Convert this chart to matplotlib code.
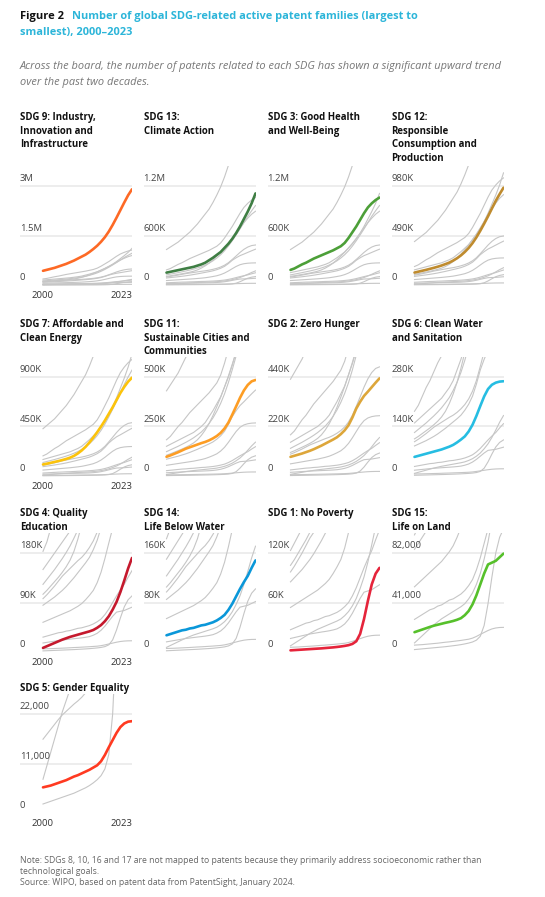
import matplotlib.pyplot as plt
from matplotlib.transforms import blended_transform_factory

W, H = 545, 897
plt.rcParams['font.family'] = ['Open Sans', 'Noto Sans', 'DejaVu Sans']

years = list(range(2000, 2024))

# values per SDG, 2000-2023
sdg9 = [430e3, 460e3, 490e3, 520e3, 560e3, 600e3, 640e3, 690e3, 740e3, 800e3, 860e3, 920e3,
        1.00e6, 1.09e6, 1.19e6, 1.31e6, 1.45e6, 1.62e6, 1.82e6, 2.04e6, 2.27e6, 2.50e6, 2.72e6, 2.90e6]
sdg13 = [150e3, 160e3, 170e3, 180e3, 190e3, 200e3, 210e3, 220e3, 235e3, 250e3, 270e3, 300e3,
         330e3, 365e3, 400e3, 450e3, 500e3, 560e3, 630e3, 710e3, 800e3, 890e3, 990e3, 1.11e6]
sdg3 = [183e3, 200e3, 225e3, 250e3, 270e3, 295e3, 320e3, 340e3, 360e3, 380e3, 400e3, 420e3,
        445e3, 470e3, 510e3, 570e3, 640e3, 710e3, 790e3, 870e3, 940e3, 990e3, 1.03e6, 1.06e6]
sdg12 = [123e3, 132e3, 141e3, 150e3, 160e3, 170e3, 181e3, 193e3, 207e3, 222e3, 242e3, 265e3,
         293e3, 327e3, 367e3, 415e3, 472e3, 537e3, 607e3, 680e3, 757e3, 833e3, 900e3, 963e3]
sdg7 = [105e3, 112e3, 120e3, 128e3, 136e3, 145e3, 155e3, 167e3, 183e3, 205e3, 232e3, 265e3,
        305e3, 350e3, 398e3, 450e3, 505e3, 565e3, 625e3, 690e3, 755e3, 810e3, 858e3, 894e3]
sdg11 = [97e3, 104e3, 112e3, 120e3, 129e3, 138e3, 145e3, 152e3, 159e3, 166e3, 172e3, 180e3,
         190e3, 202e3, 218e3, 240e3, 270e3, 310e3, 352e3, 395e3, 432e3, 460e3, 478e3, 485e3]
sdg2 = [85e3, 90e3, 95e3, 100e3, 106e3, 112e3, 119e3, 127e3, 135e3, 144e3, 153e3, 162e3,
        172e3, 186e3, 203e3, 226e3, 260e3, 300e3, 330e3, 356e3, 375e3, 395e3, 415e3, 434e3]
sdg6 = [54e3, 57e3, 60e3, 63e3, 66e3, 69e3, 72e3, 75e3, 79e3, 83e3, 88e3, 95e3,
        103e3, 112e3, 126e3, 145e3, 170e3, 198e3, 225e3, 246e3, 258e3, 264e3, 267e3, 268e3]
sdg4 = [7.5e3, 10.5e3, 13.5e3, 16.5e3, 19.5e3, 22.5e3, 25e3, 27.5e3, 29.5e3, 31.5e3, 33.5e3, 35.5e3,
        37.5e3, 40e3, 44e3, 49e3, 56e3, 65e3, 77e3, 91e3, 109e3, 130e3, 152e3, 171e3]
sdg14 = [27e3, 29e3, 31e3, 33e3, 35e3, 36e3, 38e3, 39e3, 41e3, 43e3, 44e3, 46e3,
         48e3, 51e3, 55e3, 60e3, 68e3, 78e3, 90e3, 102e3, 113e3, 123e3, 136e3, 148e3]
sdg1 = [2.0e3, 2.3e3, 2.6e3, 2.9e3, 3.2e3, 3.5e3, 3.8e3, 4.1e3, 4.4e3, 4.8e3, 5.2e3, 5.6e3,
        6.1e3, 6.7e3, 7.4e3, 8.3e3, 9.8e3, 13e3, 22e3, 40e3, 62e3, 82e3, 95e3, 102e3]
sdg15 = [16.4e3, 17.5e3, 18.6e3, 19.7e3, 20.8e3, 21.8e3, 22.6e3, 23.4e3, 24.2e3, 24.9e3, 25.7e3, 26.7e3,
         28.0e3, 30.5e3, 34.0e3, 39.5e3, 47.0e3, 56.0e3, 65.0e3, 72.5e3, 74.0e3, 75.5e3, 78.5e3, 81.5e3]
sdg5 = [5.7e3, 5.9e3, 6.1e3, 6.4e3, 6.7e3, 7.0e3, 7.3e3, 7.7e3, 8.1e3, 8.4e3, 8.8e3, 9.2e3,
        9.6e3, 10.1e3, 10.6e3, 11.5e3, 12.9e3, 14.6e3, 16.2e3, 17.8e3, 19.1e3, 19.9e3, 20.3e3, 20.4e3]

series = [sdg9, sdg13, sdg3, sdg12, sdg7, sdg11, sdg2, sdg6, sdg4, sdg14, sdg1, sdg15, sdg5]
titles = ['SDG 9: Industry,\nInnovation and\nInfrastructure',
          'SDG 13:\nClimate Action',
          'SDG 3: Good Health\nand Well-Being',
          'SDG 12:\nResponsible\nConsumption and\nProduction',
          'SDG 7: Affordable and\nClean Energy',
          'SDG 11:\nSustainable Cities and\nCommunities',
          'SDG 2: Zero Hunger',
          'SDG 6: Clean Water\nand Sanitation',
          'SDG 4: Quality\nEducation',
          'SDG 14:\nLife Below Water',
          'SDG 1: No Poverty',
          'SDG 15:\nLife on Land',
          'SDG 5: Gender Equality']
colors = ['#FD6925', '#3F7E44', '#4C9F38', '#BF8B2E', '#FCC30B', '#FD9D24', '#DDA63A',
          '#26BDE2', '#C5192D', '#0A97D9', '#E5243B', '#56C02B', '#FF3A21']
y_max = [3e6, 1.2e6, 1.2e6, 980e3, 900e3, 500e3, 440e3, 280e3, 180e3, 160e3, 120e3, 82000, 22000]
top_labels = ['3M', '1.2M', '1.2M', '980K', '900K', '500K', '440K', '280K', '180K', '160K',
              '120K', '82,000', '22,000']
mid_labels = ['1.5M', '600K', '600K', '490K', '450K', '250K', '220K', '140K', '90K', '80K',
              '60K', '41,000', '11,000']

fig = plt.figure(figsize=(W / 100, H / 100), dpi=100)


def fx(x):
    return x / W


def fy(y):
    return 1 - y / H


col_left = [20, 143.5, 267.5, 391.5]
row_zero = [285, 476, 652, 813]
title_top = [112, 319, 508, 683]
ax_w = 112
unit = 99  # px from 0 to y_max

for i, vals in enumerate(series):
    r, c = divmod(i, 4)
    left = col_left[c]
    bottom = row_zero[r] + 0.02 * unit
    height = 1.22 * unit
    ax = fig.add_axes([fx(left), fy(bottom), fx(ax_w), height / H])
    ymax = y_max[i]
    ax.set_xlim(2000 - 23 * 23 / 89, 2023)
    ax.set_ylim(-0.02 * ymax, 1.2 * ymax)
    ax.axis('off')
    for v in (ymax / 2, ymax):
        ax.axhline(v, color='#e8e8e8', lw=1.1, zorder=0)
    for j, other in enumerate(series):
        if j != i:
            ax.plot(years, other, color='#c6c6c6', lw=0.8, zorder=1)
    ax.plot(years, vals, color=colors[i], lw=1.9, zorder=3, solid_capstyle='round')

    tr = blended_transform_factory(ax.transAxes, ax.transData)
    for v, lab in ((ymax, top_labels[i]), (ymax / 2, mid_labels[i]), (0, '0')):
        ax.annotate(lab, xy=(0, v), xycoords=tr, xytext=(0, 5.2), textcoords='offset points',
                    ha='left', va='center', fontsize=6.8, color='#444444')
    if c == 0:
        ax.annotate('2000', xy=(2000, 0), xycoords='data', xytext=(0, -7.5), textcoords='offset points',
                    ha='center', va='center', fontsize=6.8, color='#333333', annotation_clip=False)
        ax.annotate('2023', xy=(2023, 0), xycoords='data', xytext=(0, -7.5), textcoords='offset points',
                    ha='right', va='center', fontsize=6.8, color='#333333', annotation_clip=False)

    fig.text(fx(left), fy(title_top[r]), titles[i], ha='left', va='top', fontsize=6.9,
             fontweight='bold', color='#111111', linespacing=1.32)

# heading
fig.text(fx(19.5), fy(17), 'Figure 2', ha='left', va='center', fontsize=8.0,
         fontweight='bold', color='#111111')
fig.text(fx(72), fy(17), 'Number of global SDG-related active patent families (largest to',
         ha='left', va='center', fontsize=7.9, fontweight='bold', color='#2cb5d9')
fig.text(fx(19.5), fy(33), 'smallest), 2000\u20132023', ha='left', va='center', fontsize=7.9,
         fontweight='bold', color='#2cb5d9')
fig.text(fx(19.5), fy(66), 'Across the board, the number of patents related to each SDG has shown a significant upward trend',
         ha='left', va='center', fontsize=7.95, style='italic', color='#777777')
fig.text(fx(19.5), fy(82), 'over the past two decades.', ha='left', va='center', fontsize=7.95,
         style='italic', color='#777777')

note = ('Note: SDGs 8, 10, 16 and 17 are not mapped to patents because they primarily address socioeconomic rather than\n'
        'technological goals.\n'
        'Source: WIPO, based on patent data from PatentSight, January 2024.')
fig.text(fx(19.5), fy(856), note, ha='left', va='top', fontsize=6.2, color='#666666', linespacing=1.3)

fig.savefig('out.png', dpi=100)
